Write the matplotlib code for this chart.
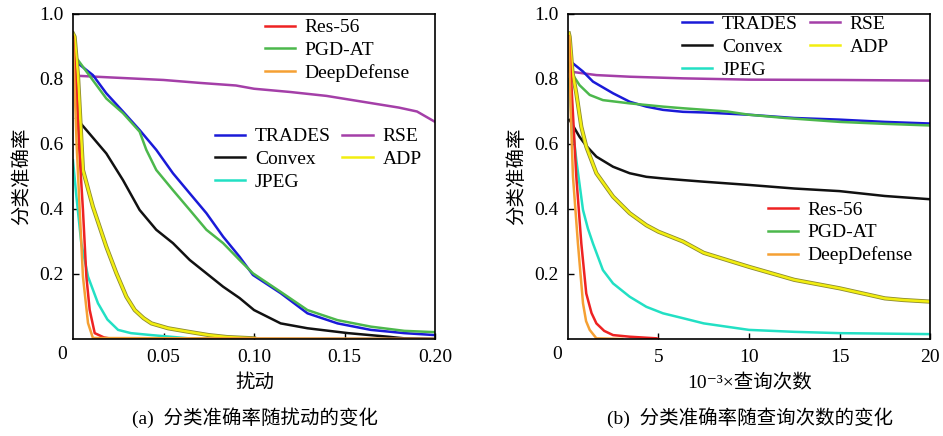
import numpy as np
import matplotlib
matplotlib.use('Agg')
import matplotlib.pyplot as plt
import matplotlib.patheffects as pe

plt.rcParams['font.family'] = ['Liberation Serif', 'Noto Sans CJK SC', 'DejaVu Serif']
plt.rcParams['font.size'] = 14

# ---- (a) accuracy vs perturbation ----
a_res56_x = [0.0, 0.002, 0.0035, 0.0055, 0.0074, 0.0092, 0.012, 0.017, 0.022, 0.20]
a_res56_y = [0.93, 0.75, 0.58, 0.397, 0.192, 0.09, 0.018, 0.005, 0.0, 0.0]
a_deep_x = [0.0, 0.002, 0.0037, 0.0055, 0.0083, 0.011, 0.20]
a_deep_y = [0.92, 0.60, 0.397, 0.192, 0.049, 0.003, 0.0]
a_pgd_x = [0.0028, 0.0184, 0.0276, 0.0368, 0.0405, 0.046, 0.0552, 0.0645, 0.0737, 0.0829, 0.092, 0.0994,
           0.1147, 0.1295, 0.1461, 0.1645, 0.183, 0.20]
a_pgd_y = [0.858, 0.740, 0.695, 0.638, 0.582, 0.520, 0.458, 0.397, 0.336, 0.295, 0.243, 0.202,
           0.145, 0.089, 0.058, 0.038, 0.025, 0.021]
a_trades_x = [0.0028, 0.011, 0.0184, 0.0276, 0.0368, 0.046, 0.0552, 0.0645, 0.0737, 0.0829, 0.092, 0.0994,
              0.1147, 0.1295, 0.1461, 0.1645, 0.183, 0.20]
a_trades_y = [0.848, 0.812, 0.756, 0.700, 0.643, 0.582, 0.510, 0.448, 0.387, 0.315, 0.253, 0.197,
              0.141, 0.079, 0.048, 0.028, 0.018, 0.012]
a_convex_x = [0.0018, 0.0074, 0.0184, 0.0276, 0.0368, 0.046, 0.0552, 0.0645, 0.0737, 0.0829, 0.092, 0.10,
              0.1147, 0.1295, 0.152, 0.174, 0.183, 0.20]
a_convex_y = [0.679, 0.643, 0.571, 0.489, 0.397, 0.336, 0.295, 0.243, 0.202, 0.161, 0.126, 0.089,
              0.048, 0.033, 0.018, 0.007, 0.002, 0.0]
a_jpeg_x = [0.0, 0.0019, 0.0046, 0.0083, 0.0138, 0.019, 0.0249, 0.032, 0.0433, 0.064, 0.08, 0.20]
a_jpeg_y = [0.55, 0.438, 0.294, 0.192, 0.110, 0.06, 0.028, 0.018, 0.012, 0.002, 0.0, 0.0]
a_rse_x = [0.002, 0.02, 0.05, 0.07, 0.09, 0.10, 0.12, 0.14, 0.16, 0.18, 0.19, 0.20]
a_rse_y = [0.81, 0.805, 0.797, 0.788, 0.780, 0.770, 0.760, 0.748, 0.730, 0.712, 0.700, 0.668]
a_adp_x = [0.0, 0.0009, 0.0028, 0.0055, 0.011, 0.0184, 0.024, 0.0295, 0.0341, 0.039,
           0.0433, 0.0525, 0.064, 0.075, 0.085, 0.10]
a_adp_y = [0.94, 0.93, 0.807, 0.52, 0.407, 0.284, 0.202, 0.130, 0.089, 0.064,
           0.048, 0.033, 0.022, 0.012, 0.006, 0.002]

# ---- (b) accuracy vs number of queries (x1e3) ----
b_res56_x = [0.05, 0.25, 0.46, 0.737, 1.01, 1.3, 1.57, 2.0, 2.49, 3.41, 4.9, 5.0]
b_res56_y = [0.93, 0.72, 0.50, 0.294, 0.140, 0.08, 0.048, 0.025, 0.012, 0.007, 0.002, 0.0]
b_deep_x = [0.05, 0.15, 0.276, 0.55, 0.83, 1.0, 1.2, 1.57, 3.0]
b_deep_y = [0.93, 0.70, 0.50, 0.294, 0.110, 0.055, 0.028, 0.002, 0.0]
b_pgd_x = [0.05, 0.092, 0.64, 1.2, 1.93, 3.41, 5.25, 6.35, 8.8, 10.0, 12.0, 15.0, 17.5, 20.0]
b_pgd_y = [0.85, 0.828, 0.781, 0.751, 0.735, 0.725, 0.715, 0.710, 0.70, 0.69, 0.68, 0.668, 0.662, 0.657]
b_trades_x = [0.1, 0.276, 0.83, 1.38, 2.49, 3.41, 4.33, 5.25, 6.35, 7.5, 10.0, 12.5, 15.0, 17.5, 20.0]
b_trades_y = [0.85, 0.848, 0.823, 0.792, 0.756, 0.730, 0.715, 0.705, 0.699, 0.697, 0.69, 0.68, 0.675, 0.668, 0.663]
b_convex_x = [0.092, 0.64, 1.0, 1.57, 2.49, 3.41, 4.33, 5.25, 6.35, 7.5, 10.0, 12.5, 15.0, 17.5, 20.0]
b_convex_y = [0.674, 0.622, 0.595, 0.561, 0.530, 0.510, 0.499, 0.494, 0.489, 0.484, 0.474, 0.463, 0.455, 0.44, 0.43]
b_jpeg_x = [0.05, 0.2, 0.46, 0.83, 1.1, 1.38, 1.93, 2.49, 3.41, 4.33, 5.25, 6.35, 7.5, 10.0, 12.5, 15.0, 20.0]
b_jpeg_y = [0.80, 0.68, 0.551, 0.397, 0.34, 0.294, 0.212, 0.171, 0.130, 0.099, 0.079, 0.064, 0.048, 0.028, 0.022, 0.018, 0.015]
b_rse_x = [0.092, 1.57, 3.41, 6.35, 10.0, 15.0, 20.0]
b_rse_y = [0.823, 0.812, 0.807, 0.802, 0.798, 0.797, 0.795]
b_adp_x = [0.05, 0.092, 0.25, 0.46, 0.737, 1.01, 1.57, 2.49, 3.41, 4.33, 5.0, 6.35, 7.5, 10.0, 12.5, 15.0, 17.5, 18.5, 20.0]
b_adp_y = [0.94, 0.93, 0.82, 0.756, 0.653, 0.592, 0.510, 0.438, 0.387, 0.35, 0.33, 0.30, 0.265, 0.222, 0.182, 0.156, 0.125, 0.12, 0.115]

colors = {'Res-56': '#ee2222', 'PGD-AT': '#4cb84c', 'DeepDefense': '#f5a033',
          'TRADES': '#1a1ad8', 'Convex': '#111111', 'JPEG': '#22e0c4',
          'RSE': '#a43fa8', 'ADP': '#f2ee10'}
lw = 1.8
adp_fx = [pe.Stroke(linewidth=lw + 1.2, foreground='#8c8a30'), pe.Normal()]

fig = plt.figure(figsize=(9.43, 4.36), dpi=100)
ax1 = fig.add_axes([0.0774, 0.2225, 0.384, 0.7454])
ax2 = fig.add_axes([0.6023, 0.2225, 0.384, 0.7454])


def draw(ax, d):
    h = {}
    for name, (x, y) in d.items():
        h[name], = ax.plot(x, y, color=colors[name], lw=lw, label=name,
                           path_effects=adp_fx if name == 'ADP' else None)
    return h


# draw order: slow-changing lines first, steep ones on top
h1 = draw(ax1, {'RSE': (a_rse_x, a_rse_y), 'TRADES': (a_trades_x, a_trades_y),
                'PGD-AT': (a_pgd_x, a_pgd_y), 'Convex': (a_convex_x, a_convex_y),
                'JPEG': (a_jpeg_x, a_jpeg_y), 'ADP': (a_adp_x, a_adp_y),
                'Res-56': (a_res56_x, a_res56_y), 'DeepDefense': (a_deep_x, a_deep_y)})
h2 = draw(ax2, {'RSE': (b_rse_x, b_rse_y), 'TRADES': (b_trades_x, b_trades_y),
                'PGD-AT': (b_pgd_x, b_pgd_y), 'Convex': (b_convex_x, b_convex_y),
                'JPEG': (b_jpeg_x, b_jpeg_y), 'ADP': (b_adp_x, b_adp_y),
                'Res-56': (b_res56_x, b_res56_y), 'DeepDefense': (b_deep_x, b_deep_y)})

leg_kw = dict(frameon=False, borderpad=0, borderaxespad=0, handlelength=1.55,
              handletextpad=0.5, labelspacing=0.26, columnspacing=0.6, fontsize=14)


def legends(ax, h, pos_a, pos_b):
    names_a = ['Res-56', 'PGD-AT', 'DeepDefense']
    names_b = ['TRADES', 'Convex', 'JPEG', 'RSE', 'ADP']
    la = ax.legend([h[n] for n in names_a], names_a, loc='upper left',
                   bbox_to_anchor=pos_a, ncol=1, **leg_kw)
    ax.add_artist(la)
    lb = ax.legend([h[n] for n in names_b], names_b, loc='upper left',
                   bbox_to_anchor=pos_b, ncol=2, **leg_kw)
    for line in lb.legend_handles:
        line.set_path_effects([])


legends(ax1, h1, (0.53, 0.985), (0.392, 0.65))
legends(ax2, h2, (0.552, 0.424), (0.315, 0.995))

for ax, xmax, ticks, labels in [(ax1, 0.2, [0.05, 0.10, 0.15, 0.20], ['0.05', '0.10', '0.15', '0.20']),
                                (ax2, 20, [5, 10, 15, 20], ['5', '10', '15', '20'])]:
    ax.set_xlim(0, xmax)
    ax.set_ylim(0, 1.0)
    ax.set_xticks(ticks)
    ax.set_xticklabels(labels)
    ax.set_yticks([0.2, 0.4, 0.6, 0.8, 1.0])
    ax.set_yticklabels(['0.2', '0.4', '0.6', '0.8', '1.0'])
    ax.tick_params(direction='in', length=4, width=1, pad=7, labelsize=14)
    for s in ax.spines.values():
        s.set_linewidth(1.2)
    ax.text(-0.03, -0.022, '0', transform=ax.transAxes, ha='center', va='top', fontsize=14)
    ax.set_ylabel('分类准确率', fontsize=14, labelpad=5.5)

fig.text(0.2705, 0.122, '扰动', ha='center', va='center', fontsize=14)
fig.text(0.795, 0.122, '10⁻³×查询次数', ha='center', va='center', fontsize=14)
fig.text(0.2705, 0.041, '(a)  分类准确率随扰动的变化', ha='center', va='center', fontsize=14)
fig.text(0.795, 0.041, '(b)  分类准确率随查询次数的变化', ha='center', va='center', fontsize=14)

fig.savefig('out.png', dpi=100, facecolor='white')
